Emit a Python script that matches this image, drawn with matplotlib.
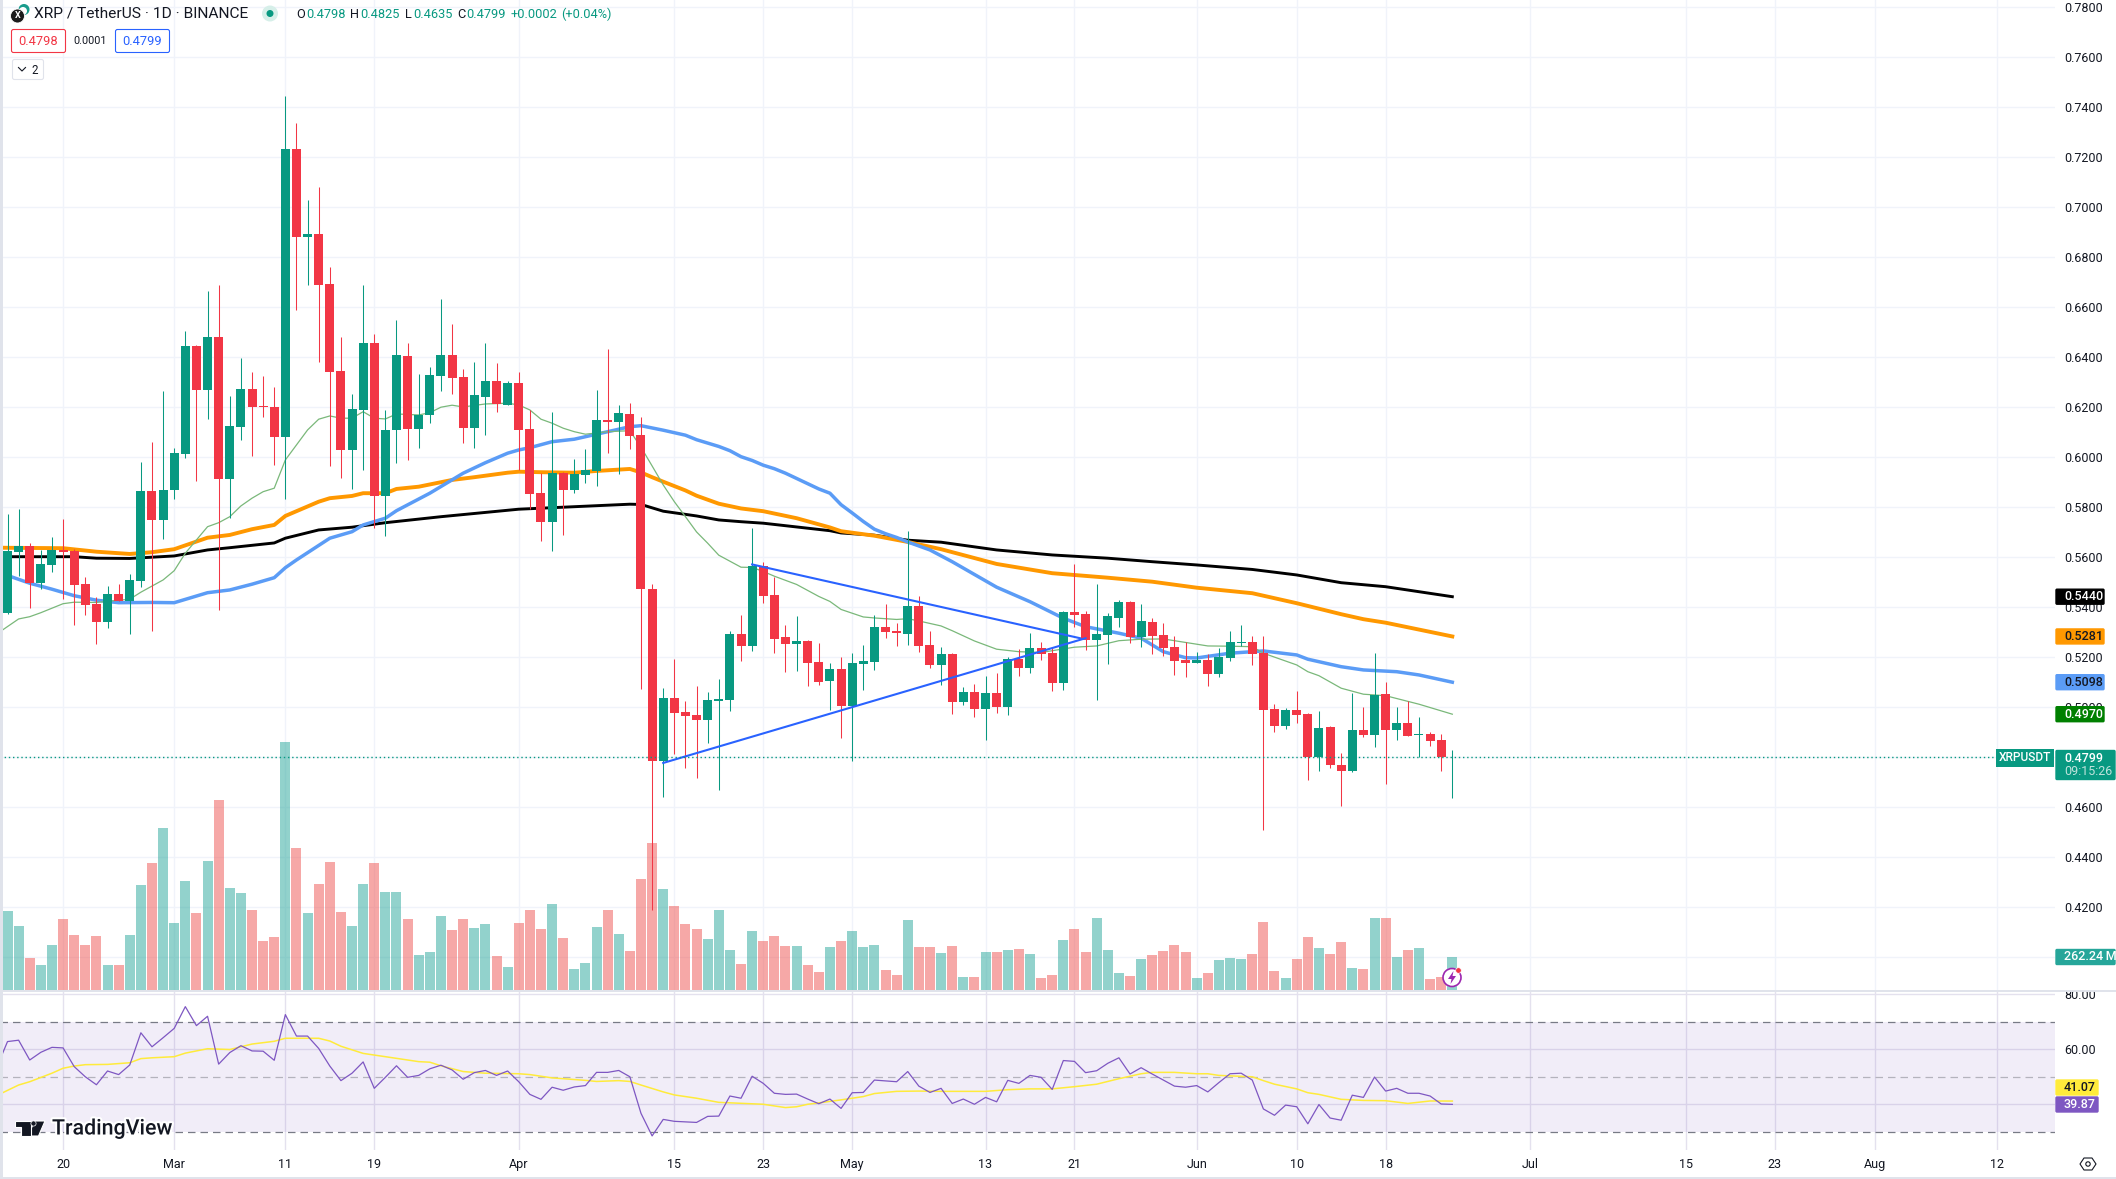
import matplotlib
matplotlib.use("Agg")
import matplotlib.pyplot as plt
import matplotlib.patheffects as pe
from matplotlib.patches import Circle, Polygon, Rectangle, FancyBboxPatch

W, H = 2116, 1179
plt.rcParams['font.family'] = ['Roboto', 'DejaVu Sans']

# daily candles, index 0 = 15 Feb
opens = [.5376,.5619,.5643,.5495,.5567,.5627,.5623,.5491,.5411,.5339,
         .5451,.5423,.5503,.5863,.5747,.5867,.6011,.6443,.6267,.6479,
         .5911,.6119,.6271,.6203,.6199,.6079,.7231,.6879,.6891,.6691,
         .6343,.6027,.6187,.6455,.5843,.6107,.6403,.6111,.6167,.6323,
         .6407,.6319,.6115,.6239,.6303,.6207,.6295,.6111,.5855,.5739,
         .5935,.5867,.5927,.5943,.6147,.6139,.6171,.6088,.5471,.4784,
         .5036,.4978,.4966,.4947,.5024,.5027,.5291,.5243,.5562,.5447,
         .5279,.5251,.5263,.5179,.5103,.5152,.5003,.5171,.5179,.5319,
         .5304,.5291,.5403,.5246,.5167,.5211,.5019,.5059,.4991,.5055,
         .4999,.5191,.5155,.5235,.5215,.5095,.5379,.5371,.5267,.5287,
         .5355,.5419,.5279,.5339,.5287,.5239,.5187,.5175,.5187,.5131,
         .5195,.5255,.5259,.5215,.4991,.4923,.4987,.4971,.4799,.4919,
         .4767,.4743,.4907,.4887,.5051,.4907,.4935,.4887,.4891,.4867,.4798]
highs = [.5771,.5791,.5655,.5627,.5679,.5751,.5631,.5519,.5439,.5483,
         .5491,.5531,.5979,.6059,.6263,.6035,.6503,.6447,.6663,.6687,
         .6243,.6395,.6339,.6323,.6279,.7443,.7335,.7027,.7079,.6759,
         .6479,.6251,.6687,.6491,.6187,.6547,.6455,.6331,.6359,.6631,
         .6531,.6351,.6379,.6455,.6375,.6303,.6339,.6187,.5934,.6179,
         .5939,.5991,.6031,.6267,.6431,.6207,.6215,.6158,.5492,.5075,
         .5191,.5024,.5082,.5060,.5111,.5304,.5367,.5714,.5579,.5519,
         .5328,.5362,.5267,.5255,.5176,.5200,.5215,.5246,.5367,.5410,
         .5335,.5702,.5443,.5304,.5239,.5214,.5079,.5091,.5123,.5135,
         .5199,.5231,.5295,.5259,.5239,.5383,.5571,.5383,.5491,.5375,
         .5427,.5423,.5411,.5355,.5335,.5283,.5259,.5219,.5211,.5235,
         .5303,.5327,.5283,.5283,.5011,.4995,.5063,.4973,.4983,.4921,
         .4815,.5055,.4999,.5215,.5099,.4999,.5023,.4959,.4899,.4891,.4825]
lows = [.5371,.5523,.5396,.5472,.5539,.5432,.5328,.5367,.5252,.5315,
        .5423,.5292,.5479,.5303,.5671,.5831,.5995,.5903,.6151,.5387,
        .5755,.6067,.6003,.6159,.5967,.5831,.6587,.6687,.6379,.5963,
        .5915,.5871,.5947,.5715,.5683,.5975,.5987,.6035,.6135,.6263,
        .6251,.6055,.6035,.6087,.6179,.6207,.5947,.5791,.5663,.5623,
        .5687,.5855,.5895,.5883,.6015,.5931,.6031,.5070,.4187,.4638,
        .4811,.4756,.4715,.4855,.4668,.4983,.5183,.5222,.5416,.5215,
        .5139,.5143,.5082,.5087,.4988,.4875,.4784,.5067,.5147,.5275,
        .5243,.5246,.5219,.5155,.5087,.4971,.5007,.4959,.4867,.4975,
        .4967,.5123,.5135,.5187,.5063,.5067,.5319,.5227,.5027,.5171,
        .5319,.5255,.5239,.5211,.5203,.5127,.5119,.5175,.5083,.5119,
        .5183,.5243,.5167,.4507,.4899,.4911,.4935,.4707,.4743,.4755,
        .4603,.4739,.4879,.4839,.4691,.4867,.4883,.4799,.4843,.4743,.4635]
closes = [.5623,.5643,.5495,.5571,.5627,.5619,.5487,.5407,.5339,.5451,
          .5423,.5507,.5863,.5747,.5867,.6015,.6443,.6267,.6479,.5911,
          .6123,.6271,.6199,.6199,.6079,.7231,.6879,.6891,.6687,.6339,
          .6027,.6191,.6455,.5843,.6107,.6407,.6111,.6167,.6327,.6407,
          .6315,.6115,.6247,.6303,.6211,.6295,.6107,.5851,.5739,.5935,
          .5867,.5931,.5947,.6147,.6139,.6175,.6083,.5469,.4784,.5036,
          .4975,.4963,.4947,.5027,.5031,.5291,.5243,.5562,.5443,.5270,
          .5251,.5263,.5176,.5099,.5152,.5003,.5176,.5183,.5319,.5299,
          .5295,.5403,.5243,.5167,.5212,.5019,.5059,.4991,.5055,.4999,
          .5191,.5155,.5235,.5211,.5095,.5379,.5367,.5267,.5291,.5363,
          .5419,.5279,.5343,.5283,.5235,.5183,.5175,.5187,.5131,.5199,
          .5259,.5259,.5211,.4987,.4923,.4987,.4967,.4799,.4915,.4767,
          .4743,.4907,.4887,.5047,.4907,.4935,.4883,.4891,.4863,.4798,.4799]

# volume in millions
volumes = [628,509,254,199,358,564,437,358,429,199,
           199,437,834,1009,1287,532,866,612,1025,1510,
           811,771,636,389,421,1971,1128,612,842,1017,
           620,509,842,1009,779,779,564,278,302,588,
           477,564,493,525,270,183,532,636,485,683,
           413,167,215,501,636,445,310,882,1168,803,
           668,525,485,405,636,318,207,469,389,429,
           350,350,199,143,342,389,469,342,358,159,
           119,556,342,342,294,350,103,103,302,302,
           318,326,286,95,119,397,485,302,572,318,
           135,111,246,278,310,358,302,95,135,238,
           254,246,286,540,151,95,246,421,334,286,
           381,175,167,572,572,262,318,334,87,103,262.24]

# moving averages, read at the bends of each line
ma200_x = [-1,6,8,11,13,15,18,20,24,25,28,31,34,39,46,56,57,59,62,64,66,68,71,74,75,78,81,84,89,94,99,103,107,112,116,120,124,130]
ma200_y = [.5600,.5600,.5594,.5593,.5598,.5603,.5627,.5636,.5655,.5674,.5707,.5718,.5736,.5760,.5790,.5810,.5809,.5782,.5763,.5747,.5740,.5734,.5719,.5704,.5695,.5686,.5666,.5658,.5627,.5607,.5594,.5580,.5567,.5549,.5527,.5496,.5480,.5440]
ma100_x = [-1,5,8,11,13,15,18,20,22,24,25,28,29,31,32,34,35,37,40,42,45,46,48,51,53,56,57,58,59,61,62,64,66,68,71,74,75,78,81,84,89,94,99,103,107,112,116,120,122,124,130]
ma100_y = [.5636,.5634,.5620,.5611,.5618,.5630,.5676,.5687,.5710,.5727,.5763,.5820,.5834,.5843,.5854,.5854,.5871,.5880,.5907,.5918,.5936,.5940,.5938,.5936,.5943,.5951,.5937,.5918,.5900,.5865,.5844,.5812,.5793,.5782,.5754,.5717,.5702,.5684,.5659,.5630,.5571,.5534,.5516,.5500,.5476,.5454,.5414,.5370,.5350,.5336,.5281]
ma50_x = [-1,0,2,4,6,8,10,13,15,18,20,22,24,25,26,29,31,32,34,35,38,41,43,45,46,47,49,51,53,56,57,59,61,62,64,65,66,67,68,69,70,71,72,73,74,75,76,77,78,79,80,81,83,85,89,92,95,97,100,102,104,106,107,110,113,116,117,120,122,125,127,130]
ma50_y = [.5537,.5525,.5494,.5470,.5444,.5426,.5416,.5417,.5416,.5456,.5467,.5490,.5516,.5556,.5587,.5674,.5700,.5727,.5754,.5784,.5854,.5934,.5976,.6014,.6027,.6036,.6060,.6070,.6090,.6120,.6124,.6106,.6086,.6068,.6041,.6024,.6000,.5985,.5966,.5952,.5934,.5913,.5892,.5871,.5854,.5808,.5775,.5741,.5710,.5692,.5677,.5659,.5627,.5580,.5478,.5420,.5354,.5320,.5294,.5274,.5220,.5196,.5195,.5214,.5223,.5207,.5190,.5160,.5147,.5140,.5127,.5098]
ma20_x = [-1,1,2,3,5,6,8,11,12,14,15,16,18,19,20,21,22,23,24,25,27,28,29,30,31,32,33,34,35,37,38,39,40,41,43,45,46,47,48,49,50,51,52,54,56,57,58,59,60,61,62,63,64,66,67,68,69,71,73,74,75,77,78,80,81,82,84,85,87,89,91,93,96,98,100,102,104,107,108,110,112,113,116,117,118,120,122,124,127,130]
ma20_y = [.5290,.5351,.5360,.5376,.5412,.5418,.5417,.5430,.5458,.5507,.5544,.5614,.5720,.5736,.5760,.5803,.5834,.5860,.5874,.5987,.6107,.6150,.6163,.6154,.6154,.6180,.6154,.6151,.6171,.6167,.6176,.6198,.6206,.6199,.6211,.6214,.6207,.6187,.6150,.6134,.6114,.6100,.6090,.6100,.6104,.6038,.5963,.5887,.5820,.5760,.5699,.5654,.5606,.5558,.5557,.5541,.5522,.5489,.5441,.5421,.5389,.5359,.5355,.5349,.5352,.5343,.5323,.5304,.5263,.5230,.5220,.5217,.5238,.5243,.5264,.5270,.5271,.5250,.5243,.5242,.5240,.5214,.5167,.5140,.5124,.5074,.5050,.5044,.5010,.4970]

# the two drawn trend lines
trend_up_x, trend_up_y = [67, 96.5], [.5569, .5274]
trend_lo_x, trend_lo_y = [59, 97], [.4775, .5274]

rsi = [53.0,62.7,63.2,56.0,58.8,60.6,60.4,53.6,49.9,47.0,52.0,
       50.7,54.2,65.9,60.8,64.1,67.5,75.4,68.5,71.9,54.5,
       58.7,61.2,59.3,59.2,55.9,72.5,64.7,64.7,60.2,53.8,
       48.5,51.2,55.3,45.7,49.7,53.9,49.7,50.4,52.8,54.1,
       52.4,49.0,51.4,52.2,50.4,52.0,48.1,43.5,41.7,46.1,
       45.0,46.2,46.7,51.5,51.5,52.2,49.9,36.6,28.4,34.4,
       33.7,33.5,33.3,35.5,35.6,42.9,42.1,50.1,47.5,43.9,
       43.5,43.6,41.8,40.1,41.8,38.4,44.1,44.2,48.7,48.4,
       48.1,51.8,46.5,44.2,45.7,40.2,41.8,39.9,42.4,40.8,
       48.6,47.5,50.4,49.7,45.3,55.8,55.5,51.4,52.1,54.8,
       56.8,50.9,53.2,50.9,48.7,46.5,46.1,46.7,44.4,47.8,
       51.0,51.2,48.7,38.2,35.9,39.6,39.0,32.8,39.8,34.9,
       34.1,43.2,42.4,49.8,44.7,45.7,43.9,43.9,42.9,40.0,39.87]
rsi_ma_x = [-1,1,2,4,5,6,7,9,11,12,13,15,16,18,20,22,24,25,28,29,30,32,35,37,38,39,41,43,46,47,49,52,53,55,56,57,59,60,62,64,68,70,71,72,73,75,77,78,80,82,84,88,90,92,94,96,98,100,102,103,105,107,108,109,112,113,114,116,117,118,120,122,124,126,128,130]
rsi_ma_y = [43.0,46.9,48.1,51.2,53.0,53.8,54.3,54.4,55.0,56.5,56.8,57.2,58.5,60.1,59.8,61.8,62.8,63.9,63.9,62.9,61.0,58.4,56.6,55.4,55.2,53.9,51.8,51.2,51.0,50.7,49.5,48.6,48.2,48.5,48.2,46.9,44.4,43.3,42.1,40.6,39.9,38.7,39.0,39.9,40.4,41.5,42.7,43.8,44.6,44.7,44.6,44.6,45.2,45.5,45.5,46.3,47.2,49.2,51.0,51.5,51.5,51.0,51.0,50.4,49.9,48.5,47.2,45.5,44.1,43.5,41.7,41.3,41.2,40.2,41.1,41.07]

# time axis, positions in days from the first candle
tick_pos = [5,15,25,33,46,60,68,76,88,96,107,116,124,137,151,159,168,179]
tick_txt = ['20','Mar','11','19','Apr','15','23','May','13','21','Jun','10','18','Jul','15','23','Aug','12']
# 0.48, 0.40 and 40 sit under the value badges, so no text for those
price_ticks = [.78,.76,.74,.72,.70,.68,.66,.64,.62,.60,.58,.56,.54,.52,.50,.48,.46,.44,.42,.40]
price_txt = ['0.7800','0.7600','0.7400','0.7200','0.7000','0.6800','0.6600','0.6400','0.6200','0.6000',
             '0.5800','0.5600','0.5400','0.5200','0.5000','','0.4600','0.4400','0.4200','']
rsi_ticks = [80, 60, 40]
rsi_txt = ['80.00', '60.00', '']

GREEN, RED = '#089981', '#f23645'
VOL_UP, VOL_DOWN = '#26a69a', '#ef5350'
GRID = '#f0f3fa'
TXT = '#131722'
BORDER = '#e0e3eb'


def rect(x0, y0, x1, y1):
    """pixel box (top left origin) to figure fractions"""
    return [x0 / W, 1 - y1 / H, (x1 - x0) / W, (y1 - y0) / H]


fig = plt.figure(figsize=(W / 100, H / 100), dpi=100, facecolor='white')

x0_k = -7.5 / 11.114
x1_k = (2055 - 7.5) / 11.114
PANE = rect(0, 0, 2055, 990)
price_lim = (.78268 - 990 / 2500, .78268)

# grid and price labels at the very back so volume bars sit on top
ax_grid = fig.add_axes(PANE, zorder=0)
ax_grid.set_xlim(x0_k, x1_k)
ax_grid.set_ylim(*price_lim)
ax_grid.set_xticks(tick_pos)
ax_grid.set_yticks(price_ticks)
ax_grid.set_yticklabels(price_txt, fontsize=9, color=TXT)
ax_grid.yaxis.tick_right()
ax_grid.tick_params(axis='y', length=0, pad=6.5)
ax_grid.tick_params(axis='x', length=0, labelbottom=False)
ax_grid.grid(True, color=GRID, lw=1)
for s in ax_grid.spines.values():
    s.set_visible(False)

ax_vol = fig.add_axes(PANE, zorder=1)
ax_vol.patch.set_visible(False)
ax_vol.set_xlim(x0_k, x1_k)
ax_vol.set_ylim(0, 990 * 262.24 / 33)
ax_vol.axis('off')

ax = fig.add_axes(PANE, zorder=2)
ax.patch.set_visible(False)
ax.set_xlim(x0_k, x1_k)
ax.set_ylim(*price_lim)
ax.axis('off')

idx = list(range(len(closes)))
colors = [GREEN if c >= o else RED for o, c in zip(opens, closes)]
vol_colors = [VOL_UP if c >= o else VOL_DOWN for o, c in zip(opens, closes)]

ax_vol.bar(idx, volumes, width=.9, color=vol_colors, alpha=.5, linewidth=0)

ax.plot(ma200_x, ma200_y, color='black', lw=2.1, zorder=2, solid_joinstyle='round')
ax.plot(ma100_x, ma100_y, color='#ff9800', lw=2.8, zorder=2, solid_joinstyle='round')
ax.plot(ma50_x, ma50_y, color='#5b9cf6', lw=2.5, zorder=2, solid_joinstyle='round')
ax.plot(ma20_x, ma20_y, color='#7ab87a', lw=.9, zorder=2)

ax.vlines(idx, lows, highs, colors=colors, lw=.75, zorder=3)
ax.bar(idx, [abs(c - o) for o, c in zip(opens, closes)],
       bottom=[min(o, c) for o, c in zip(opens, closes)],
       width=.81, color=colors, linewidth=0, zorder=4)

ax.plot(trend_up_x, trend_up_y, color='#2962ff', lw=1.5, zorder=5)
ax.plot(trend_lo_x, trend_lo_y, color='#2962ff', lw=1.5, zorder=5)

# dotted last price line, stops at the symbol label
ax.plot([x0_k, (1996 - 7.5) / 11.114], [closes[-1], closes[-1]], color=GREEN, lw=1, ls=(0, (1, 2)), zorder=6)

# RSI pane
ax_rsi = fig.add_axes(rect(0, 992, 2055, 1150), zorder=3)
ax_rsi.set_xlim(x0_k, x1_k)
ax_rsi.set_ylim(80 - (1150 - 994) / 2.75, 80 - (992 - 994) / 2.75)
ax_rsi.set_xticks(tick_pos)
ax_rsi.set_xticklabels(tick_txt, fontsize=9, color=TXT)
ax_rsi.set_yticks(rsi_ticks)
ax_rsi.set_yticklabels(rsi_txt, fontsize=9, color=TXT)
ax_rsi.yaxis.tick_right()
ax_rsi.tick_params(axis='y', length=0, pad=6.5)
ax_rsi.tick_params(axis='x', length=0, pad=6)
ax_rsi.set_axisbelow(True)
ax_rsi.grid(True, color='#e4e1ee', lw=1)
for s in ax_rsi.spines.values():
    s.set_visible(False)
ax_rsi.axhspan(30, 70, color='#7e57c2', alpha=.1, lw=0, zorder=1)
ax_rsi.axhline(70, color='#787b86', lw=.9, ls=(0, (6, 4)), zorder=2)
ax_rsi.axhline(50, color='#b4b3bd', lw=.9, ls=(0, (6, 4)), zorder=2)
ax_rsi.axhline(30, color='#787b86', lw=.9, ls=(0, (6, 4)), zorder=2)
ax_rsi.plot(rsi_ma_x, rsi_ma_y, color='#ffeb3b', lw=1.1, zorder=3)
ax_rsi.plot([-1] + idx, rsi, color='#7e57c2', lw=.9, zorder=4)

# everything else is chart chrome, drawn on a pixel sized overlay
ov = fig.add_axes([0, 0, 1, 1], zorder=10)
ov.patch.set_visible(False)
ov.set_xlim(0, W)
ov.set_ylim(H, 0)
ov.axis('off')


def py(axis, value):
    """pixel row of a value on one of the panes"""
    return ov.transData.inverted().transform(axis.transData.transform((0, value)))[1]


def badge(x0, x1, yc, color, txt, tc='white', weight='medium', h=17):
    ov.add_patch(FancyBboxPatch((x0 + 1, yc - h / 2 + 1), x1 - x0 - 2, h - 2, boxstyle='round,pad=0,rounding_size=1',
                                mutation_aspect=1, fc=color, ec=color, lw=1))
    if txt:
        ov.text(2064, yc, txt, color=tc, fontsize=9, va='center', ha='left', fontweight=weight)


ov.add_patch(Rectangle((0, 0), 3, H, fc=BORDER, ec='none'))
ov.add_patch(Rectangle((0, H - 2), W, 2, fc=BORDER, ec='none'))
ov.add_patch(Rectangle((2055, 985), 61, 6, fc='white', ec='none'))
ov.plot([0, W], [991, 991], color=BORDER, lw=1.4)

badge(2055, 2105, py(ax, .5440), 'black', '0.5440')
badge(2055, 2105, py(ax, .5281), '#ff9800', '0.5281', tc=TXT)
badge(2055, 2105, py(ax, .5098), '#5b9cf6', '0.5098', tc=TXT)
badge(2055, 2105, py(ax, .4970), 'green', '0.4970')
badge(2055, 2116, 765, GREEN, '', h=31)
ov.text(2064, 758, '0.4799', color='white', fontsize=9, va='center', fontweight='medium')
ov.text(2064, 771.5, '09:15:26', color='#bfe3dc', fontsize=9, va='center')
badge(2055, 2116, py(ax_vol, 0) - 33, VOL_UP, '262.24\u2009M')
# RSI labels are stacked so they do not cover each other
badge(2055, 2099, 1087.5, '#ffeb3b', '41.07', tc=TXT)
badge(2055, 2099, 1104.5, '#7e57c2', '39.87')

# symbol label next to the price badge
ov.add_patch(Rectangle((1996, 749), 58, 17.5, fc=GREEN, ec='none'))
ov.text(2025, 757.8, 'XRPUSDT', color='white', fontsize=8.6, va='center', ha='center', fontweight='medium')

# header
ov.add_patch(Circle((24, 9.5), 5.5, fc='#1a9c8c', ec='none'))
ov.add_patch(Circle((23, 11), 4, fc='white', ec='none'))
ov.add_patch(Circle((17.5, 16), 7, fc='#1c1c1c', ec='white', lw=.6))
ov.text(17.5, 16, 'X', color='white', fontsize=6.5, ha='center', va='center', fontweight='bold')
ov.text(34, 14, 'XRP / TetherUS \u00b7 1D \u00b7 BINANCE', color=TXT, fontsize=11.15, va='center')
ov.add_patch(Circle((270, 13.5), 8, fc='#d6efe9', ec='none'))
ov.add_patch(Circle((270, 13.5), 3.5, fc=GREEN, ec='none'))
for x, letter, val in [(296, 'O', '0.4798'), (350, 'H', '0.4825'), (405, 'L', '0.4635'), (457, 'C', '0.4799')]:
    t = ov.text(x, 14, letter, color=TXT, fontsize=9.2, va='center')
    ov.annotate(val, xy=(1, .5), xycoords=t, xytext=(1, 0), textcoords='offset points', color=GREEN, fontsize=9.2, va='center')
ov.text(510.5, 14, '+0.0002', color=GREEN, fontsize=9.2, va='center')
ov.text(561, 14, '(+0.04%)', color=GREEN, fontsize=9.2, va='center')

ov.add_patch(FancyBboxPatch((11.5, 29.5), 54, 23, boxstyle='round,pad=0,rounding_size=2', fc='white', ec=RED, lw=.8))
ov.text(38.5, 41.5, '0.4798', color=RED, fontsize=9.3, ha='center', va='center')
ov.text(90, 41.5, '0.0001', color=TXT, fontsize=7.8, ha='center', va='center')
ov.add_patch(FancyBboxPatch((115.5, 29.5), 54, 23, boxstyle='round,pad=0,rounding_size=2', fc='white', ec='#2962ff', lw=.8))
ov.text(142.5, 41.5, '0.4799', color='#2962ff', fontsize=9.3, ha='center', va='center')
ov.add_patch(FancyBboxPatch((12.5, 59.5), 31, 20, boxstyle='round,pad=0,rounding_size=2', fc='white', ec=BORDER, lw=.8))
ov.plot([18.5, 22, 25.5], [67.5, 71, 67.5], color=TXT, lw=.8)
ov.text(35, 70, '2', color=TXT, fontsize=8.3, ha='center', va='center')

# TradingView mark
halo = [pe.withStroke(linewidth=3, foreground='white')]
logo_t = Polygon([(15, 1121), (31, 1121), (31, 1136), (21, 1136), (21, 1126.5), (15, 1126.5)], fc=TXT, ec='white', lw=.8)
logo_7 = Polygon([(34.5, 1121), (45, 1121), (38.5, 1136), (28, 1136)], fc=TXT, ec='white', lw=.8)
ov.add_patch(logo_7)
ov.add_patch(logo_t)
ov.add_patch(Circle((33.5, 1123.5), 2.6, fc=TXT, ec='white', lw=.5))
ov.text(52, 1129, 'TradingView', color=TXT, fontsize=15.4, va='center', fontweight='medium', path_effects=halo)

# small alert icon at the last bar
ov.add_patch(Circle((1452, 977.5), 9, fc='white', ec='#9c27b0', lw=1.2))
ov.add_patch(Polygon([(1453.5, 971), (1448, 979), (1451.5, 979), (1450.5, 984), (1456, 976), (1452.5, 976)], fc='#9c27b0', ec='none'))
ov.add_patch(Circle((1458.5, 970.5), 2.8, fc=RED, ec='white', lw=.5))

# settings icon, bottom right
ov.add_patch(Polygon([(2080, 1164), (2084, 1158), (2092, 1158), (2096, 1164), (2092, 1170), (2084, 1170)], fc='white', ec=TXT, lw=.8))
ov.add_patch(Circle((2088, 1164), 2.2, fc='white', ec=TXT, lw=.8))

fig.savefig('out.png', dpi=100, facecolor='white')
